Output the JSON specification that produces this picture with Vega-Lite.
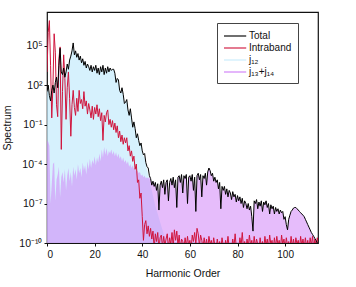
{
  "$schema": "https://vega.github.io/schema/vega-lite/v6.json",
  "autosize": "none",
  "width": 271,
  "height": 231,
  "padding": {"left": 47, "top": 12, "right": 38, "bottom": 44},
  "config": {
    "font": "Liberation Sans",
    "view": {"stroke": "#111", "strokeWidth": 1.2},
    "axis": {"grid": false, "domain": false, "tickColor": "#111", "tickSize": 3, "labelColor": "#111", "titleColor": "#111", "labelFontSize": 10, "titleFontSize": 10.5, "titleFontWeight": "normal", "labelFont": "Liberation Sans", "titleFont": "Liberation Sans"}
  },
  "datasets": {
    "total": [
      {"h":0,"v":32},{"h":0.5,"v":100},{"h":1,"v":16},{"h":1.5,"v":6.3},{"h":2,"v":40},{"h":2.5,"v":100},{"h":3,"v":25},{"h":3.5,"v":160},{"h":4,"v":400},{"h":4.5,"v":63},{"h":5,"v":3200},{"h":5.5,"v":6.3e4},{"h":6,"v":1e3},{"h":6.5,"v":630},{"h":7,"v":2e3},{"h":7.5,"v":400},{"h":8,"v":1e3},{"h":8.5,"v":4e3},{"h":9,"v":1.6e3},{"h":9.5,"v":8e3},{"h":10,"v":1.6e4},{"h":10.5,"v":4e4},{"h":11,"v":1.6e5},{"h":11.5,"v":2e4},{"h":12,"v":4e4},{"h":12.5,"v":1.3e4},{"h":13,"v":2.5e4},{"h":13.5,"v":8e3},{"h":14,"v":1.6e4},{"h":14.5,"v":5e3},{"h":15,"v":1e4},{"h":15.5,"v":3.2e3},{"h":16,"v":6.3e3},{"h":16.5,"v":2e3},{"h":17,"v":4e3},{"h":17.5,"v":2.5e3},{"h":18,"v":1.3e3},{"h":18.5,"v":3.2e3},{"h":19,"v":1e3},{"h":19.5,"v":2.5e3},{"h":20,"v":1.3e3},{"h":20.5,"v":3.2e3},{"h":21,"v":800},{"h":21.5,"v":2e3},{"h":22,"v":630},{"h":22.5,"v":2.5e3},{"h":23,"v":1e3},{"h":23.5,"v":3.2e3},{"h":24,"v":630},{"h":24.5,"v":2e3},{"h":25,"v":800},{"h":25.5,"v":2.5e3},{"h":26,"v":1e3},{"h":26.5,"v":2e3},{"h":27,"v":1.3e3},{"h":27.5,"v":1.6e3},{"h":28,"v":1.6e3},{"h":28.5,"v":800},{"h":29,"v":160},{"h":29.5,"v":320},{"h":30,"v":250},{"h":30.5,"v":40},{"h":31,"v":25},{"h":31.5,"v":63},{"h":32,"v":20},{"h":32.5,"v":4},{"h":33,"v":5},{"h":33.5,"v":8},{"h":34,"v":1.3},{"h":34.5,"v":0.5},{"h":35,"v":1.6},{"h":35.5,"v":0.32},{"h":36,"v":0.063},{"h":36.5,"v":0.16},{"h":37,"v":0.05},{"h":37.5,"v":0.01},{"h":38,"v":0.02},{"h":38.5,"v":0.0063},{"h":39,"v":0.0025},{"h":39.5,"v":0.004},{"h":40,"v":1e-3},{"h":40.5,"v":5e-4},{"h":41,"v":6.3e-4},{"h":41.5,"v":1.3e-4},{"h":42,"v":6.3e-5},{"h":42.5,"v":5e-5},{"h":43,"v":1.3e-5},{"h":43.5,"v":8e-6},
      {"h":44,"v":2.5e-6},{"h":44.5,"v":5e-6},{"h":45,"v":2e-6},{"h":45.5,"v":4e-6},{"h":46,"v":1e-6},{"h":46.5,"v":3.2e-6},{"h":47,"v":3.2e-8},{"h":47.5,"v":2.5e-6},{"h":48,"v":5e-6},{"h":48.5,"v":1.6e-6},{"h":49,"v":6.3e-6},{"h":49.5,"v":5e-7},{"h":50,"v":4e-6},{"h":50.5,"v":6.3e-6},{"h":51,"v":1.6e-7},{"h":51.5,"v":4e-6},{"h":52,"v":8e-6},{"h":52.5,"v":2.5e-6},{"h":53,"v":1e-5},{"h":53.5,"v":1.6e-6},{"h":54,"v":6.3e-6},{"h":54.5,"v":5e-8},{"h":55,"v":1e-5},{"h":55.5,"v":1.3e-5},{"h":56,"v":4e-6},{"h":56.5,"v":1.6e-5},{"h":57,"v":6.3e-7},{"h":57.5,"v":1.3e-5},{"h":58,"v":8e-6},{"h":58.5,"v":1.6e-5},{"h":59,"v":1e-7},{"h":59.5,"v":1e-5},{"h":60,"v":1.3e-5},{"h":60.5,"v":5e-6},{"h":61,"v":1.6e-5},{"h":61.5,"v":1e-6},{"h":62,"v":1e-5},{"h":62.5,"v":2.5e-8},{"h":63,"v":1.3e-5},{"h":63.5,"v":2e-5},{"h":64,"v":6.3e-6},{"h":64.5,"v":1.6e-5},{"h":65,"v":3.2e-7},{"h":65.5,"v":1.3e-5},{"h":66,"v":8e-6},{"h":66.5,"v":2e-5},{"h":67,"v":2.5e-6},{"h":67.5,"v":2.5e-5},{"h":68,"v":5e-5},{"h":68.5,"v":3.2e-5},{"h":69,"v":1.3e-5},{"h":69.5,"v":2e-5},{"h":70,"v":5e-6},{"h":70.5,"v":1e-5},{"h":71,"v":4e-6},{"h":71.5,"v":6.3e-6},{"h":72,"v":1.3e-6},{"h":72.5,"v":4e-6},{"h":73,"v":4e-8},{"h":73.5,"v":2e-6},{"h":74,"v":1e-6},{"h":74.5,"v":2e-6},{"h":75,"v":5e-7},{"h":75.5,"v":1.3e-6},{"h":76,"v":3.2e-7},{"h":76.5,"v":1e-6},{"h":77,"v":6.3e-7},{"h":77.5,"v":2e-7},{"h":78,"v":8e-7},{"h":78.5,"v":3.2e-7},{"h":79,"v":5e-7},{"h":79.5,"v":1.3e-7},{"h":80,"v":4e-7},{"h":80.5,"v":1.6e-7},{"h":81,"v":3.2e-7},{"h":81.5,"v":1e-7},{"h":82,"v":2.5e-7},{"h":82.5,"v":5e-8},{"h":83,"v":1.6e-7},{"h":83.5,"v":1e-7},{"h":84,"v":4e-8},{"h":84.5,"v":1e-7},{"h":85,"v":3.2e-8},{"h":85.5,"v":6.3e-8},{"h":86,"v":1e-8},{"h":86.5,"v":8e-10},{"h":87,"v":1.6e-7},{"h":87.5,"v":1e-7},{"h":88,"v":2e-7},{"h":88.5,"v":4e-8},{"h":89,"v":1.3e-7},{"h":89.5,"v":6.3e-8},{"h":90,"v":1.6e-7},{"h":90.5,"v":2.5e-8},{"h":91,"v":1.3e-7},{"h":91.5,"v":8e-8},{"h":92,"v":1.6e-7},{"h":92.5,"v":5e-8},{"h":93,"v":1e-7},{"h":93.5,"v":1.6e-8},{"h":94,"v":8e-8},{"h":94.5,"v":4e-8},{"h":95,"v":6.3e-8},{"h":95.5,"v":1.6e-8},{"h":96,"v":5e-8},{"h":96.5,"v":2.5e-8},{"h":97,"v":4e-8},{"h":97.5,"v":1.6e-8},{"h":98,"v":3.2e-8},{"h":98.5,"v":2e-8},{"h":99,"v":2.5e-8},{"h":99.5,"v":6.3e-9},{"h":100,"v":1e-8},{"h":100.5,"v":2.5e-9},{"h":101,"v":1e-9},{"h":101.5,"v":6.3e-9},{"h":102,"v":1.3e-8},{"h":102.5,"v":2.5e-8},{"h":103,"v":3.2e-8},{"h":103.5,"v":4.5e-8},{"h":104,"v":5e-8},{"h":104.5,"v":5e-8},{"h":105,"v":4e-8},{"h":105.5,"v":3.2e-8},{"h":106,"v":2.5e-8},{"h":106.5,"v":2e-8},{"h":107,"v":1.6e-8},{"h":107.5,"v":1.3e-8},{"h":108,"v":1e-8},{"h":108.5,"v":6.3e-9},{"h":109,"v":4e-9},{"h":109.5,"v":2.5e-9},{"h":110,"v":1.6e-9},{"h":110.5,"v":1e-9},{"h":111,"v":6.3e-10},{"h":111.5,"v":4.5e-10},{"h":112,"v":3.2e-10},{"h":112.5,"v":2.2e-10},{"h":113,"v":1.6e-10},{"h":113.5,"v":1e-10},{"h":114,"v":6.3e-11}
    ],
    "j12": [
      {"h":0,"v":32},{"h":0.5,"v":100},{"h":1,"v":16},{"h":1.5,"v":6.3},{"h":2,"v":40},{"h":2.5,"v":100},{"h":3,"v":25},{"h":3.5,"v":160},{"h":4,"v":400},{"h":4.5,"v":63},{"h":5,"v":3200},{"h":5.5,"v":6.3e4},{"h":6,"v":1e3},{"h":6.5,"v":630},{"h":7,"v":2e3},{"h":7.5,"v":400},{"h":8,"v":1e3},{"h":8.5,"v":4e3},{"h":9,"v":1.6e3},{"h":9.5,"v":8e3},{"h":10,"v":1.6e4},{"h":10.5,"v":4e4},{"h":11,"v":1.6e5},{"h":11.5,"v":2e4},{"h":12,"v":4e4},{"h":12.5,"v":1.3e4},{"h":13,"v":2.5e4},{"h":13.5,"v":8e3},{"h":14,"v":1.6e4},{"h":14.5,"v":5e3},{"h":15,"v":1e4},{"h":15.5,"v":3.2e3},{"h":16,"v":6.3e3},{"h":16.5,"v":2e3},{"h":17,"v":4e3},{"h":17.5,"v":2.5e3},{"h":18,"v":1.3e3},{"h":18.5,"v":3.2e3},{"h":19,"v":1e3},{"h":19.5,"v":2.5e3},{"h":20,"v":1.3e3},{"h":20.5,"v":3.2e3},{"h":21,"v":800},{"h":21.5,"v":2e3},{"h":22,"v":630},{"h":22.5,"v":2.5e3},{"h":23,"v":1e3},{"h":23.5,"v":3.2e3},{"h":24,"v":630},{"h":24.5,"v":2e3},{"h":25,"v":800},{"h":25.5,"v":2.5e3},{"h":26,"v":1e3},{"h":26.5,"v":2e3},{"h":27,"v":1.3e3},{"h":27.5,"v":1.6e3},{"h":28,"v":1.6e3},{"h":28.5,"v":800},{"h":29,"v":160},{"h":29.5,"v":320},{"h":30,"v":250},{"h":30.5,"v":40},{"h":31,"v":25},{"h":31.5,"v":63},{"h":32,"v":20},{"h":32.5,"v":4},{"h":33,"v":5},{"h":33.5,"v":8},{"h":34,"v":1.3},{"h":34.5,"v":0.5},{"h":35,"v":1.6},{"h":35.5,"v":0.32},{"h":36,"v":0.063},{"h":36.5,"v":0.16},{"h":37,"v":0.05},{"h":37.5,"v":0.01},{"h":38,"v":0.02},{"h":38.5,"v":0.0063},{"h":39,"v":0.0025},{"h":39.5,"v":0.004},{"h":40,"v":1e-3},
      {"h":40.5,"v":4e-4},{"h":41,"v":3.2e-4},{"h":41.5,"v":1e-4},{"h":42,"v":4e-5},{"h":42.5,"v":1.6e-5},{"h":43,"v":6.3e-6},{"h":43.5,"v":2.5e-6},{"h":44,"v":1e-6},{"h":44.5,"v":4e-7},{"h":45,"v":1.6e-7},{"h":45.5,"v":6.3e-8},{"h":46,"v":3.2e-8},{"h":47,"v":8e-9},{"h":48,"v":2e-9},{"h":49,"v":5e-10},{"h":50,"v":1.6e-10},{"h":51,"v":5e-11}
    ],
    "j1314": [
      {"h":0,"v":6.3e-3},{"h":0.5,"v":5e-3},{"h":1,"v":2.5e-3},{"h":1.5,"v":1e-7},{"h":2,"v":3.2e-6},{"h":2.5,"v":1e-4},{"h":3,"v":1.3e-4},{"h":3.5,"v":1.6e-7},{"h":4,"v":6.3e-6},{"h":4.5,"v":1.6e-5},{"h":5,"v":6.3e-5},{"h":5.5,"v":3.2e-7},{"h":6,"v":1e-5},{"h":6.5,"v":2.5e-5},{"h":7,"v":4e-6},{"h":7.5,"v":4e-5},{"h":8,"v":1e-6},{"h":8.5,"v":1.3e-5},{"h":9,"v":5e-5},{"h":9.5,"v":5e-6},{"h":10,"v":2.5e-5},{"h":10.5,"v":2e-6},{"h":11,"v":6.3e-5},{"h":11.5,"v":1.3e-5},{"h":12,"v":4e-5},{"h":12.5,"v":6.3e-6},{"h":13,"v":1e-4},{"h":13.5,"v":2e-5},{"h":14,"v":5e-5},{"h":14.5,"v":1e-5},{"h":15,"v":1.3e-4},{"h":15.5,"v":3.2e-5},{"h":16,"v":8e-5},{"h":16.5,"v":1.6e-5},{"h":17,"v":1.6e-4},{"h":17.5,"v":4e-5},{"h":18,"v":2.5e-4},{"h":18.5,"v":5e-5},{"h":19,"v":2e-4},{"h":19.5,"v":1e-4},{"h":20,"v":4e-4},{"h":20.5,"v":8e-5},{"h":21,"v":3.2e-4},{"h":21.5,"v":1.3e-4},{"h":22,"v":6.3e-4},{"h":22.5,"v":1.6e-4},{"h":23,"v":1.3e-3},{"h":23.5,"v":3.2e-4},{"h":24,"v":2e-3},{"h":24.5,"v":5e-4},{"h":25,"v":1.6e-3},{"h":25.5,"v":4e-4},{"h":26,"v":1e-3},{"h":26.5,"v":6.3e-4},{"h":27,"v":1.3e-3},{"h":27.5,"v":5e-4},{"h":28,"v":1e-3},{"h":28.5,"v":4e-4},{"h":29,"v":8e-4},{"h":29.5,"v":3.2e-4},{"h":30,"v":6.3e-4},{"h":30.5,"v":2.5e-4},{"h":31,"v":4e-4},{"h":31.5,"v":1.6e-4},{"h":32,"v":3.2e-4},{"h":32.5,"v":1.3e-4},{"h":33,"v":2e-4},{"h":33.5,"v":1e-4},{"h":34,"v":1.6e-4},{"h":34.5,"v":6.3e-5},{"h":35,"v":1e-4},{"h":35.5,"v":5e-5},{"h":36,"v":8e-5},{"h":36.5,"v":4e-5},{"h":37,"v":5e-5},{"h":37.5,"v":2.5e-5},{"h":38,"v":3.2e-5},{"h":38.5,"v":2e-5},{"h":39,"v":2.5e-5},{"h":39.5,"v":1.3e-5},{"h":40,"v":1.6e-5},{"h":40.5,"v":1e-5},{"h":41,"v":1.3e-5},{"h":41.5,"v":8e-6},{"h":42,"v":1e-5},{"h":42.5,"v":8e-6},{"h":43,"v":1e-5},{"h":43.5,"v":8e-6},
      {"h":44,"v":2.5e-6},{"h":44.5,"v":5e-6},{"h":45,"v":2e-6},{"h":45.5,"v":4e-6},{"h":46,"v":1e-6},{"h":46.5,"v":3.2e-6},{"h":47,"v":3.2e-8},{"h":47.5,"v":2.5e-6},{"h":48,"v":5e-6},{"h":48.5,"v":1.6e-6},{"h":49,"v":6.3e-6},{"h":49.5,"v":5e-7},{"h":50,"v":4e-6},{"h":50.5,"v":6.3e-6},{"h":51,"v":1.6e-7},{"h":51.5,"v":4e-6},{"h":52,"v":8e-6},{"h":52.5,"v":2.5e-6},{"h":53,"v":1e-5},{"h":53.5,"v":1.6e-6},{"h":54,"v":6.3e-6},{"h":54.5,"v":5e-8},{"h":55,"v":1e-5},{"h":55.5,"v":1.3e-5},{"h":56,"v":4e-6},{"h":56.5,"v":1.6e-5},{"h":57,"v":6.3e-7},{"h":57.5,"v":1.3e-5},{"h":58,"v":8e-6},{"h":58.5,"v":1.6e-5},{"h":59,"v":1e-7},{"h":59.5,"v":1e-5},{"h":60,"v":1.3e-5},{"h":60.5,"v":5e-6},{"h":61,"v":1.6e-5},{"h":61.5,"v":1e-6},{"h":62,"v":1e-5},{"h":62.5,"v":2.5e-8},{"h":63,"v":1.3e-5},{"h":63.5,"v":2e-5},{"h":64,"v":6.3e-6},{"h":64.5,"v":1.6e-5},{"h":65,"v":3.2e-7},{"h":65.5,"v":1.3e-5},{"h":66,"v":8e-6},{"h":66.5,"v":2e-5},{"h":67,"v":2.5e-6},{"h":67.5,"v":2.5e-5},{"h":68,"v":5e-5},{"h":68.5,"v":3.2e-5},{"h":69,"v":1.3e-5},{"h":69.5,"v":2e-5},{"h":70,"v":5e-6},{"h":70.5,"v":1e-5},{"h":71,"v":4e-6},{"h":71.5,"v":6.3e-6},{"h":72,"v":1.3e-6},{"h":72.5,"v":4e-6},{"h":73,"v":4e-8},{"h":73.5,"v":2e-6},{"h":74,"v":1e-6},{"h":74.5,"v":2e-6},{"h":75,"v":5e-7},{"h":75.5,"v":1.3e-6},{"h":76,"v":3.2e-7},{"h":76.5,"v":1e-6},{"h":77,"v":6.3e-7},{"h":77.5,"v":2e-7},{"h":78,"v":8e-7},{"h":78.5,"v":3.2e-7},{"h":79,"v":5e-7},{"h":79.5,"v":1.3e-7},{"h":80,"v":4e-7},{"h":80.5,"v":1.6e-7},{"h":81,"v":3.2e-7},{"h":81.5,"v":1e-7},{"h":82,"v":2.5e-7},{"h":82.5,"v":5e-8},{"h":83,"v":1.6e-7},{"h":83.5,"v":1e-7},{"h":84,"v":4e-8},{"h":84.5,"v":1e-7},{"h":85,"v":3.2e-8},{"h":85.5,"v":6.3e-8},{"h":86,"v":1e-8},{"h":86.5,"v":8e-10},{"h":87,"v":1.6e-7},{"h":87.5,"v":1e-7},{"h":88,"v":2e-7},{"h":88.5,"v":4e-8},{"h":89,"v":1.3e-7},{"h":89.5,"v":6.3e-8},{"h":90,"v":1.6e-7},{"h":90.5,"v":2.5e-8},{"h":91,"v":1.3e-7},{"h":91.5,"v":8e-8},{"h":92,"v":1.6e-7},{"h":92.5,"v":5e-8},{"h":93,"v":1e-7},{"h":93.5,"v":1.6e-8},{"h":94,"v":8e-8},{"h":94.5,"v":4e-8},{"h":95,"v":6.3e-8},{"h":95.5,"v":1.6e-8},{"h":96,"v":5e-8},{"h":96.5,"v":2.5e-8},{"h":97,"v":4e-8},{"h":97.5,"v":1.6e-8},{"h":98,"v":3.2e-8},{"h":98.5,"v":2e-8},{"h":99,"v":2.5e-8},{"h":99.5,"v":6.3e-9},{"h":100,"v":1e-8},{"h":100.5,"v":2.5e-9},{"h":101,"v":1e-9},{"h":101.5,"v":6.3e-9},{"h":102,"v":1.3e-8},{"h":102.5,"v":2.5e-8},{"h":103,"v":3.2e-8},{"h":103.5,"v":4.5e-8},{"h":104,"v":5e-8},{"h":104.5,"v":5e-8},{"h":105,"v":4e-8},{"h":105.5,"v":3.2e-8},{"h":106,"v":2.5e-8},{"h":106.5,"v":2e-8},{"h":107,"v":1.6e-8},{"h":107.5,"v":1.3e-8},{"h":108,"v":1e-8},{"h":108.5,"v":6.3e-9},{"h":109,"v":4e-9},{"h":109.5,"v":2.5e-9},{"h":110,"v":1.6e-9},{"h":110.5,"v":1e-9},{"h":111,"v":6.3e-10},{"h":111.5,"v":4.5e-10},{"h":112,"v":3.2e-10},{"h":112.5,"v":2.2e-10},{"h":113,"v":1.6e-10},{"h":113.5,"v":1e-10},{"h":114,"v":6.3e-11}
    ],
    "intra": [
      {"h":0,"v":1e3},{"h":0.5,"v":1e6},{"h":1,"v":8e6},{"h":1.5,"v":3.2e3},{"h":2,"v":0.32},{"h":2.5,"v":100},{"h":3,"v":8e5},{"h":3.5,"v":3.2e4},{"h":4,"v":3.2},{"h":4.5,"v":0.4},{"h":5,"v":1e4},{"h":5.5,"v":8e4},{"h":6,"v":1.3e-3},{"h":6.5,"v":32},{"h":7,"v":2e4},{"h":7.5,"v":320},{"h":8,"v":0.25},{"h":8.5,"v":63},{"h":9,"v":1e3},{"h":9.5,"v":10},{"h":10,"v":0.013},{"h":10.5,"v":3.2},{"h":11,"v":40},{"h":11.5,"v":2},{"h":12,"v":0.5},{"h":12.5,"v":10},{"h":13,"v":1},{"h":13.5,"v":40},{"h":14,"v":4},{"h":14.5,"v":8},{"h":15,"v":1.6},{"h":15.5,"v":32},{"h":16,"v":2.5},{"h":16.5,"v":6.3},{"h":17,"v":0.63},{"h":17.5,"v":4},{"h":18,"v":1.3},{"h":18.5,"v":0.32},{"h":19,"v":2.5},{"h":19.5,"v":0.25},{"h":20,"v":2},{"h":20.5,"v":0.63},{"h":21,"v":3.2},{"h":21.5,"v":0.4},{"h":22,"v":1.6},{"h":22.5,"v":0.2},{"h":23,"v":0.8},{"h":23.5,"v":0.0063},{"h":24,"v":0.5},{"h":24.5,"v":0.16},{"h":25,"v":0.8},{"h":25.5,"v":1.3},{"h":26,"v":0.1},{"h":26.5,"v":0.25},{"h":27,"v":0.063},{"h":27.5,"v":0.2},{"h":28,"v":0.04},{"h":28.5,"v":0.13},{"h":29,"v":0.025},{"h":29.5,"v":0.08},{"h":30,"v":0.01},{"h":30.5,"v":0.032},{"h":31,"v":0.005},{"h":31.5,"v":0.016},{"h":32,"v":0.0032},{"h":32.5,"v":0.01},{"h":33,"v":0.004},{"h":33.5,"v":0.01},{"h":34,"v":1e-3},{"h":34.5,"v":2.5e-3},{"h":35,"v":4e-4},{"h":35.5,"v":1e-3},{"h":36,"v":1.6e-4},{"h":36.5,"v":4e-4},{"h":37,"v":4e-5},{"h":37.5,"v":1e-4},{"h":38,"v":4e-6},{"h":38.5,"v":6.3e-6},{"h":39,"v":2.5e-7},{"h":39.5,"v":6.3e-7},{"h":40,"v":1e-8},{"h":40.5,"v":1.6e-10},{"h":41,"v":2.5e-9},{"h":41.5,"v":5e-9},{"h":42,"v":5e-10},{"h":42.5,"v":2e-9},
      {"h":43,"v":3.2e-10},{"h":43.5,"v":1.3e-9},{"h":44,"v":2e-10},{"h":44.5,"v":8e-10},{"h":45,"v":4e-11},{"h":45.5,"v":5e-10},{"h":46,"v":1.3e-10},{"h":46.5,"v":6.3e-10},{"h":47,"v":3.2e-11},{"h":47.5,"v":2.5e-10},{"h":48,"v":4e-10},{"h":48.5,"v":5e-11},{"h":49,"v":3.2e-10},{"h":49.5,"v":6.3e-11},{"h":50,"v":2e-10},{"h":50.5,"v":5e-10},{"h":51,"v":4e-11},{"h":51.5,"v":2.5e-10},{"h":52,"v":8e-11},{"h":52.5,"v":6.3e-10},{"h":53,"v":5e-11},{"h":53.5,"v":1e-9},{"h":54,"v":1.6e-10},{"h":54.5,"v":8e-10},{"h":55,"v":6.3e-11},{"h":55.5,"v":4e-10},{"h":56,"v":3.2e-11},{"h":56.5,"v":2e-10},{"h":57,"v":1.3e-10},{"h":57.5,"v":4e-11},{"h":58,"v":2.5e-10},{"h":58.5,"v":5e-11},{"h":59,"v":3.2e-10},{"h":59.5,"v":6.3e-11},{"h":60,"v":1.6e-10},{"h":60.5,"v":3.2e-11},{"h":61,"v":4e-10},{"h":61.5,"v":1.3e-10},{"h":62,"v":6.3e-10},{"h":62.5,"v":8e-11},{"h":63,"v":1.3e-9},{"h":63.5,"v":5e-10},{"h":64,"v":6.3e-11},{"h":64.5,"v":4e-10},{"h":65,"v":1.6e-10},{"h":65.5,"v":4e-11},{"h":66,"v":2.5e-10},{"h":66.5,"v":5e-11},{"h":67,"v":2e-10},{"h":67.5,"v":3.2e-11},{"h":68,"v":3.2e-10},{"h":68.5,"v":8e-11},{"h":69,"v":1.6e-10},{"h":69.5,"v":4e-11},{"h":70,"v":2.5e-10},{"h":70.5,"v":6.3e-11},{"h":71,"v":3.2e-11},{"h":71.5,"v":2e-10},{"h":72,"v":5e-11},{"h":72.5,"v":1.3e-10},{"h":73,"v":3.2e-11},{"h":73.5,"v":2.5e-10},{"h":74,"v":6.3e-11},{"h":74.5,"v":3.2e-11},{"h":75,"v":1.6e-10},{"h":75.5,"v":5e-11},{"h":76,"v":3.2e-10},{"h":76.5,"v":4e-11},{"h":77,"v":1e-10},{"h":77.5,"v":3.2e-11},{"h":78,"v":2e-10},{"h":78.5,"v":5e-11},{"h":79,"v":5e-10},{"h":79.5,"v":4e-11},{"h":80,"v":8e-11},{"h":80.5,"v":3.2e-11},{"h":81,"v":2.5e-10},{"h":81.5,"v":6.3e-11},{"h":82,"v":6.3e-10},{"h":82.5,"v":4e-11},{"h":83,"v":1.3e-10},{"h":83.5,"v":3.2e-11},{"h":84,"v":2e-10},{"h":84.5,"v":5e-11},{"h":85,"v":4e-10},{"h":85.5,"v":6.3e-11},{"h":86,"v":1.6e-10},{"h":86.5,"v":3.2e-11},{"h":87,"v":3.2e-10},{"h":87.5,"v":5e-11},{"h":88,"v":2e-10},{"h":88.5,"v":8e-11},{"h":89,"v":3.2e-11},{"h":89.5,"v":2.5e-10},{"h":90,"v":5e-11},{"h":90.5,"v":1.3e-10},{"h":91,"v":3.2e-11},{"h":91.5,"v":3.2e-10},{"h":92,"v":6.3e-11},{"h":92.5,"v":2e-10},{"h":93,"v":4e-11},{"h":93.5,"v":4e-10},{"h":94,"v":8e-11},{"h":94.5,"v":1.6e-10},{"h":95,"v":3.2e-11},{"h":95.5,"v":2.5e-10},{"h":96,"v":5e-11},{"h":96.5,"v":3.2e-10},{"h":97,"v":6.3e-11},{"h":97.5,"v":1.6e-10},{"h":98,"v":3.2e-11},{"h":98.5,"v":4e-10},{"h":99,"v":8e-11},{"h":99.5,"v":2e-10},{"h":100,"v":4e-11},{"h":100.5,"v":2.5e-10},{"h":101,"v":6.3e-11},{"h":101.5,"v":1.3e-10},{"h":102,"v":3.2e-11},{"h":102.5,"v":3.2e-10},{"h":103,"v":5e-11},{"h":103.5,"v":2e-10},{"h":104,"v":4e-11},{"h":104.5,"v":2.5e-10},{"h":105,"v":8e-11},{"h":105.5,"v":1.6e-10},{"h":106,"v":3.2e-11},{"h":106.5,"v":3.2e-10},{"h":107,"v":6.3e-11},{"h":107.5,"v":2e-10},{"h":108,"v":4e-11},{"h":108.5,"v":2.5e-10},{"h":109,"v":5e-11},{"h":109.5,"v":1.6e-10},{"h":110,"v":3.2e-11},{"h":110.5,"v":2.5e-10},{"h":111,"v":6.3e-11},{"h":111.5,"v":3.2e-10},{"h":112,"v":4e-11},{"h":112.5,"v":2e-10},{"h":113,"v":5e-11},{"h":113.5,"v":2.5e-10},{"h":114,"v":6.3e-11}
    ]
  },
  "encoding": {
    "x": {"field": "h", "type": "quantitative", "scale": {"domain": [0, 113.8], "nice": false, "zero": false},
      "axis": {"title": "Harmonic Order", "values": [0, 20, 40, 60, 80, 100], "labelPadding": 3, "titlePadding": 9}},
    "y": {"field": "v", "type": "quantitative", "scale": {"type": "log", "domain": [1e-10, 3.6e7], "nice": false},
      "axis": {"title": "Spectrum", "values": [1e-10, 1e-7, 1e-4, 0.1, 100, 1e5], "labelPadding": 2, "titlePadding": 6, "labelFontSize": 10.5,
        "labelExpr": "round(log(datum.value)/LN10) == 5 ? '10⁵' : round(log(datum.value)/LN10) == 2 ? '10²' : round(log(datum.value)/LN10) == -1 ? '10⁻¹' : round(log(datum.value)/LN10) == -4 ? '10⁻⁴' : round(log(datum.value)/LN10) == -7 ? '10⁻⁷' : '10⁻¹⁰'"}}
  },
  "layer": [
    {
      "data": {"name": "j12"},
      "mark": {"type": "area", "clip": true, "opacity": 0.75, "interpolate": "linear"},
      "encoding": {
        "y2": {"datum": 1e-10},
        "color": {"datum": "j₁₂", "type": "nominal",
          "scale": {"domain": ["Total", "Intraband", "j₁₂", "j₁₃+j₁₄"], "range": ["#000000", "#d0143c", "#c8ecfc", "#cf7ef8"]},
          "legend": {
            "orient": "none", "legendX": 170, "legendY": 11, "title": null,
            "padding": 6, "strokeColor": "#444", "fillColor": "white",
            "labelFont": "Liberation Sans", "labelFontSize": 10, "labelColor": "#111", "labelOffset": 12,
            "symbolType": "M-1,0L2.7,0", "symbolSize": 144, "rowPadding": 0,
            "encode": {
              "symbols": {"update": {
                "shape": {"value": "M-1,0L2.7,0"},
                "fill": {"value": "transparent"},
                "stroke": {"scale": "color", "field": "value"},
                "opacity": {"value": 1},
                "strokeOpacity": {"value": 1},
                "strokeWidth": {"signal": "datum.value == 'Total' || datum.value == 'Intraband' ? 1.3 : 5"}
              }},
              "labels": {"update": {
                "fontStyle": {"signal": "datum.value == 'Total' || datum.value == 'Intraband' ? 'normal' : 'italic'"}
              }}
            }
          }
        }
      }
    },
    {
      "data": {"name": "j1314"},
      "mark": {"type": "area", "clip": true, "opacity": 0.52, "interpolate": "linear"},
      "encoding": {"y2": {"datum": 1e-10}, "color": {"datum": "j₁₃+j₁₄", "type": "nominal"}}
    },
    {
      "data": {"name": "intra"},
      "mark": {"type": "line", "clip": true, "strokeWidth": 1},
      "encoding": {"color": {"datum": "Intraband", "type": "nominal"}}
    },
    {
      "data": {"name": "total"},
      "mark": {"type": "line", "clip": true, "strokeWidth": 1},
      "encoding": {"color": {"datum": "Total", "type": "nominal"}}
    }
  ]
}
